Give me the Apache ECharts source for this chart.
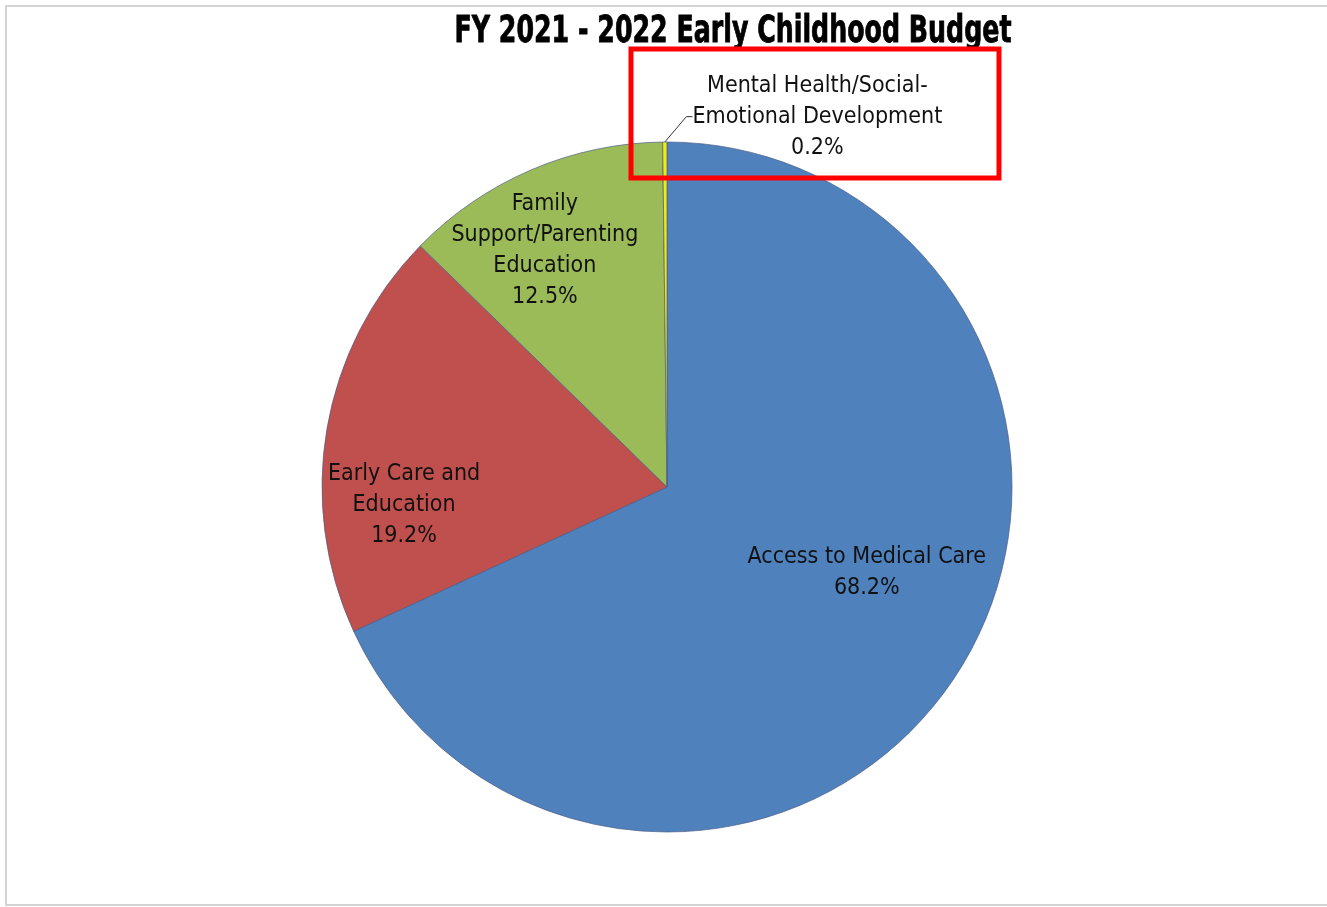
<!DOCTYPE html>
<html>
<head>
<meta charset="utf-8">
<title>FY 2021 - 2022 Early Childhood Budget</title>
<script src="https://cdn.jsdelivr.net/npm/echarts@6/dist/echarts.min.js"></script>
<style>
  html, body { margin: 0; padding: 0; background: #ffffff; }
  #chart { width: 1327px; height: 907px; }
</style>
</head>
<body>
<div id="chart"></div>
<script>
// Budget shares by program area, in percent (clockwise from 12 o'clock)
const categories = [
  'Access to Medical Care',
  'Early Care and\nEducation',
  'Family\nSupport/Parenting\nEducation',
  'Mental Health/Social-\nEmotional Development'
];
const shares = [68.2, 19.2, 12.5, 0.2];
const sliceColors = ['#4F81BD', '#C0504D', '#9BBB59', '#F2EA0C'];
const chartTitle = 'FY 2021 - 2022 Early Childhood Budget';

// Label placement tweaks (offsets from the default inside position;
// the last entry is relative to the thin slice's bounding box)
const labelOffsets = [[52, -9], [-90, 48], [-53, -75], [155, -25]];

const FONT = "'Liberation Sans Narrow', 'DejaVu Sans Condensed', 'Arial Narrow', sans-serif";

const chart = echarts.init(document.getElementById('chart'), null, { renderer: 'canvas' });

chart.setOption({
  backgroundColor: '#ffffff',
  animation: false,
  graphic: [
    {
      type: 'rect',
      silent: true,
      z: -1,
      shape: { x: 6, y: 6, width: 1340, height: 899 },
      style: { fill: null, stroke: '#d4d4d4', lineWidth: 2 }
    },
    {
      // condensed heavy title
      type: 'text',
      silent: true,
      x: 733,
      y: 33,
      scaleX: 0.77,
      style: {
        text: chartTitle,
        fontFamily: FONT,
        fontWeight: 'bold',
        fontSize: 36.5,
        fill: '#000000',
        stroke: '#000000',
        lineWidth: 0.8,
        textAlign: 'center',
        textVerticalAlign: 'middle'
      }
    },
    {
      type: 'rect',
      silent: true,
      z: 100,
      shape: { x: 631, y: 49, width: 368, height: 129 },
      style: { fill: null, stroke: '#ff0000', lineWidth: 5 }
    }
  ],
  series: [{
    type: 'pie',
    center: [667, 487],
    radius: 345,
    startAngle: 90,
    clockwise: true,
    avoidLabelOverlap: false,
    data: categories.map((name, i) => ({
      name: name,
      value: shares[i],
      itemStyle: { color: sliceColors[i] },
      label: { position: i === 3 ? 'outside' : 'inside' }
    })),
    itemStyle: { borderColor: '#4a5c84', borderWidth: 0.7 },
    label: {
      formatter: p => p.name + '\n' + p.value.toFixed(1) + '%',
      fontFamily: FONT,
      fontSize: 23,
      lineHeight: 31,
      color: '#111111',
      align: 'center'
    },
    labelLine: {
      show: true,
      length: 10,
      length2: 6,
      lineStyle: { color: '#333333', width: 1 }
    },
    labelLayout: function (p) {
      const o = labelOffsets[p.dataIndex];
      if (p.dataIndex === 3) {
        return {
          x: p.rect.x + o[0],
          y: p.rect.y + o[1],
          align: 'center',
          verticalAlign: 'middle'
        };
      }
      return { dx: o[0], dy: o[1] };
    },
    emphasis: { disabled: true }
  }]
});
</script>
</body>
</html>
